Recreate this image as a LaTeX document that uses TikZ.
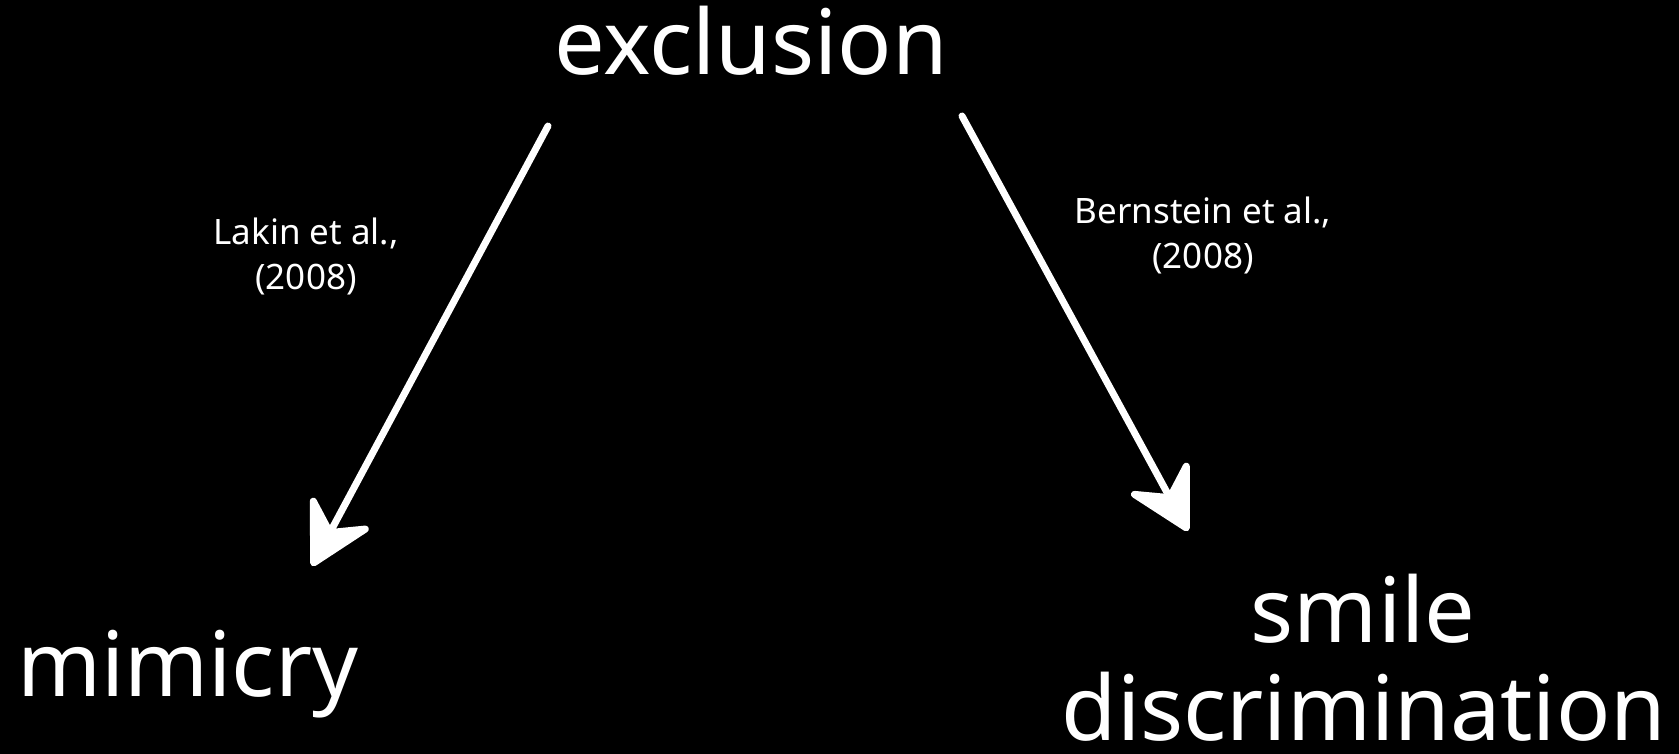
\documentclass[tikz,border=0pt]{standalone}
\usepackage{fontspec}
\setmainfont{Noto Sans}
\usetikzlibrary{arrows.meta,decorations.pathmorphing,calc}
\tikzset{
  big/.style={text=white, inner sep=0pt, text depth=0pt, font=\fontsize{90bp}{100bp}\selectfont},
  cite/.style={text=white, inner sep=0pt, align=center, font=\fontsize{35bp}{45bp}\selectfont},
  chalk/.style={draw=white, line width=7bp, line cap=round,
    -{Stealth[length=72bp, width=78bp, inset=26bp, round]}},
  rough/.style={draw=white, line width=2bp, line cap=round,
    decorate, decoration={random steps, segment length=6bp, amplitude=1.5bp}},
}
\begin{document}
\begin{tikzpicture}[x=1bp, y=-1bp]
  \fill[black] (0,0) rectangle (1679,754);
  \useasboundingbox (0,0) rectangle (1679,754);
  \node[big, anchor=base] (excl) at (751,75) {exclusion};
  \node[big, anchor=base west] (mim) at (17,696) {mimicry};
  \node[big, anchor=base] (smile) at (1363,642) {smile};
  \node[big, anchor=base] (disc) at (1364,740) {discrimination};
  \node[cite, anchor=base] (lakin) at (306,289) {Lakin et al.,\\(2008)};
  \node[cite, anchor=base] (bern) at (1203,268) {Bernstein et al.,\\(2008)};
  \coordinate (a1s) at (548,126);
  \coordinate (a1e) at (312,566);
  \coordinate (a2s) at (962,116);
  \coordinate (a2e) at (1188,531);
  \draw[chalk] (a1s) -- (a1e);
  \draw[chalk] (a2s) -- (a2e);
  \draw[rough] (a1s) -- ($(a1s)!0.88!(a1e)$);
  \draw[rough] (a2s) -- ($(a2s)!0.88!(a2e)$);
\end{tikzpicture}
\end{document}
